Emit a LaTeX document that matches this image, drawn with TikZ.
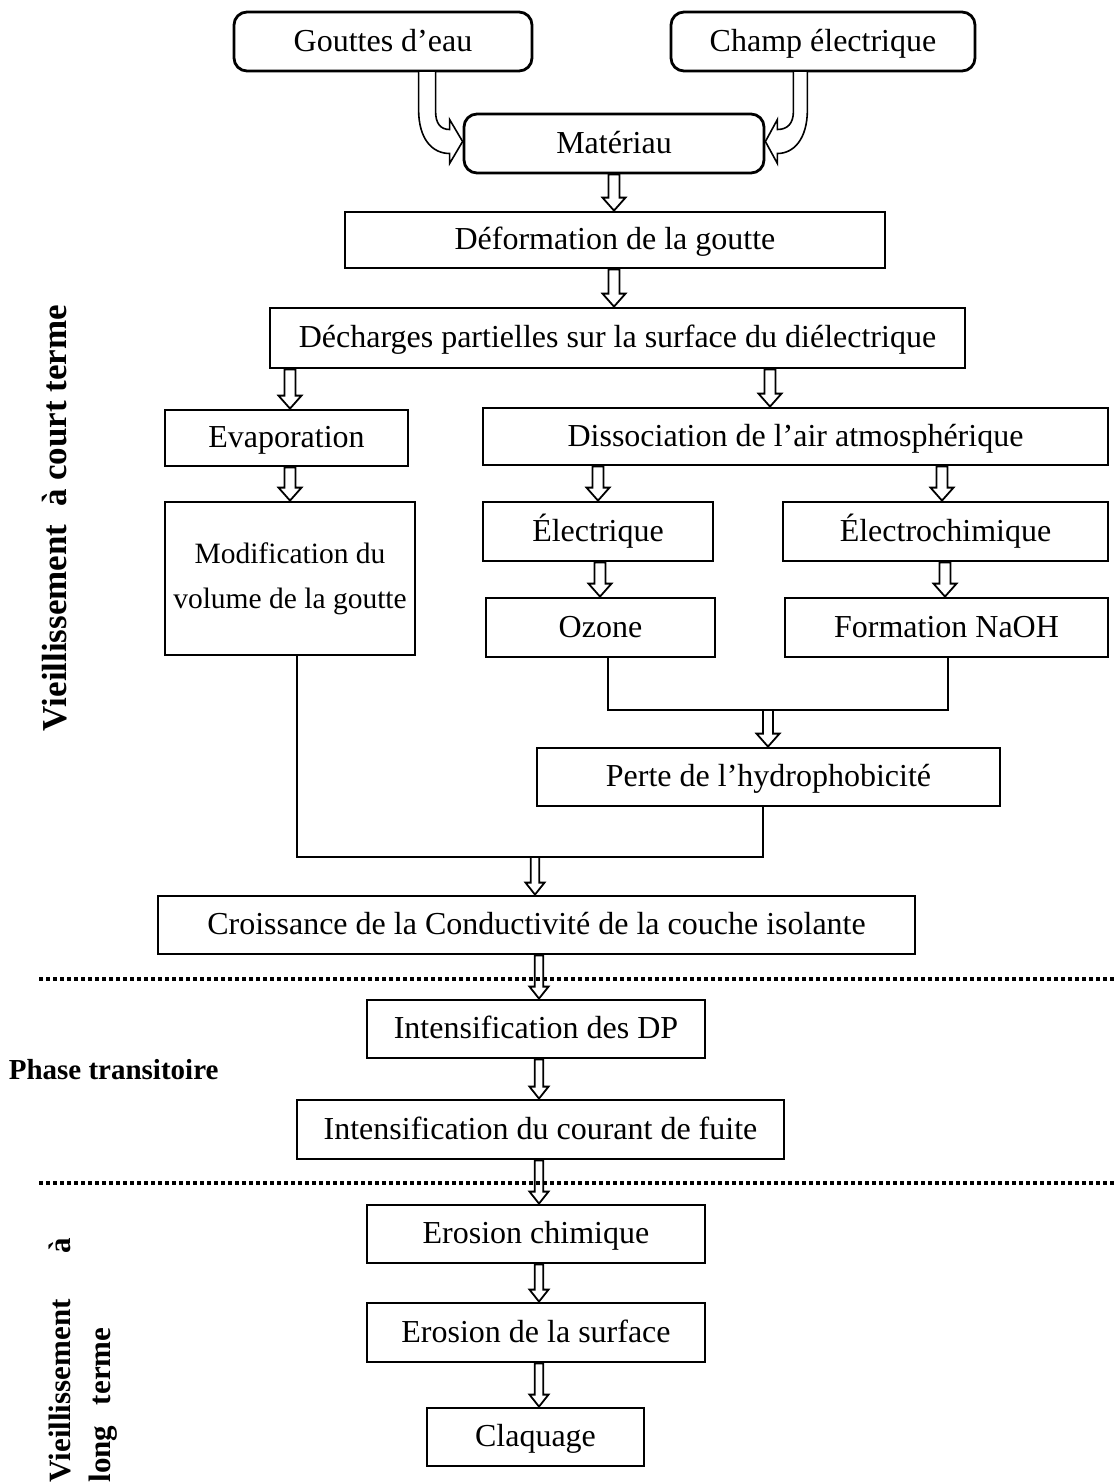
\documentclass[tikz,border=0pt]{standalone}
\usepackage{fontspec}
\setmainfont{Liberation Serif}
\usetikzlibrary{calc}
\tikzset{
  basebox/.style={draw, line width=2.8pt, inner sep=0pt, font=\fontsize{32}{38}\selectfont, align=center},
  box/.style={basebox, text height=25pt, text depth=6pt},
  rbox/.style={box, rounded corners=13pt},
  lab/.style={font=\bfseries\fontsize{29}{40}\selectfont},
  harrowst/.style={draw, fill=white, line width=1.8pt, line join=miter},
  link/.style={draw, line width=2.8pt},
  dots/.style={line width=3.8pt, dash pattern=on 3.6pt off 3.4pt}
}
\def\hs{5.5pt}\def\hw{11.5pt}\def\hl{13pt}
% hollow arrow: #1 from anchor, #2 to anchor, #3 coordinate giving x
\newcommand\harr[3]{%
  \filldraw[harrowst] let \p1=(#1), \p2=(#2), \p3=(#3) in
    (\x3-\hs,\y1) -- (\x3-\hs,\y2+\hl) -- (\x3-\hw,\y2+\hl) -- (\x3,\y2)
    -- (\x3+\hw,\y2+\hl) -- (\x3+\hs,\y2+\hl) -- (\x3+\hs,\y1) -- cycle;}
\begin{document}
\begin{tikzpicture}[x=1pt,y=-1pt]
\useasboundingbox (0,0) rectangle (1116,1484);
\fill[white] (0,0) rectangle (1116,1484);
% nodes
\node[rbox, minimum width=298pt, minimum height=59pt] (gouttes) at (383,41.5) {Gouttes d’eau};
\node[rbox, minimum width=304pt, minimum height=59pt] (champ) at (823,41.5) {Champ électrique};
\node[rbox, minimum width=300pt, minimum height=59pt] (mat) at (614,143.5) {Matériau};
\node[box, minimum width=540pt, minimum height=56pt] (def) at (615,240) {Déformation de la goutte};
\node[box, minimum width=695pt, minimum height=60pt] (dech) at (617.5,338) {Décharges partielles sur la surface du diélectrique};
\node[box, minimum width=243pt, minimum height=56pt] (evap) at (286.5,438) {Evaporation};
\node[box, minimum width=625pt, minimum height=57pt] (diss) at (795.5,436.5) {Dissociation de l’air atmosphérique};
\node[basebox, minimum width=250pt, minimum height=153pt, font=\fontsize{29.5}{38}\selectfont] (modif) at (290,578.5) {Modification du\\[7pt]volume de la goutte};
\node[box, minimum width=230pt, minimum height=59pt] (elec) at (598,531.5) {Électrique};
\node[box, minimum width=325pt, minimum height=59pt] (elch) at (945.5,531.5) {Électrochimique};
\node[box, minimum width=229pt, minimum height=59pt] (ozone) at (600.5,627.5) {Ozone};
\node[box, minimum width=323pt, minimum height=59pt] (naoh) at (946.5,627.5) {Formation NaOH};
\node[box, minimum width=463pt, minimum height=58pt] (perte) at (768.5,777) {Perte de l’hydrophobicité};
\node[box, minimum width=757pt, minimum height=58pt] (crois) at (536.5,925) {Croissance de la Conductivité de la couche isolante};
\node[box, minimum width=338pt, minimum height=58pt] (idp) at (536,1029) {Intensification des DP};
\node[box, minimum width=487pt, minimum height=59pt] (icf) at (540.5,1129.5) {Intensification du courant de fuite};
\node[box, minimum width=338pt, minimum height=58pt] (ech) at (536,1234) {Erosion chimique};
\node[box, minimum width=338pt, minimum height=59pt] (esurf) at (536,1332.5) {Erosion de la surface};
\node[box, minimum width=217pt, minimum height=58pt] (claq) at (535.5,1437) {Claquage};
% side labels
\node[lab, rotate=90, font=\bfseries\fontsize{35}{40}\selectfont] (lcourt) at (55,518) {Vieillissement\ \ à court terme};
\node[lab, anchor=east] (lphase) at (222,1070) {Phase transitoire};
\node[lab, rotate=90, text width=245pt, align=left, inner sep=0pt, font=\bfseries\fontsize{31}{40}\selectfont] (llong) at (83,1360) {Vieillissement\hfill à\\long\ \ terme};
% curved arrows into Matériau
\begin{scope}[shift={(mat.west)}]
\filldraw[harrowst, line width=1.6pt] (-44,-72.5) -- (-44,-34) .. controls (-44,-4) and (-30,10) .. (-13,10)
  -- (-13,20) -- (0,-2) -- (-13,-24) -- (-13,-14) .. controls (-22,-14) and (-27,-20) .. (-27,-32) -- (-27,-72.5) -- cycle;
\end{scope}
\begin{scope}[shift={(mat.east)}]
\filldraw[harrowst, line width=1.6pt] (42,-72.5) -- (42,-34) .. controls (42,-4) and (28,10) .. (12,10)
  -- (12,20) -- (0,-2) -- (12,-24) -- (12,-14) .. controls (22,-14) and (28,-20) .. (28,-32) -- (28,-72.5) -- cycle;
\end{scope}
% arrow x positions
\coordinate (xa) at (614,0);
\coordinate (xb) at (290,0);
\coordinate (xc) at (770,0);
\coordinate (xd) at (598,0);
\coordinate (xe) at (942,0);
\coordinate (xf) at (600,0);
\coordinate (xg) at (945,0);
\coordinate (xm) at (539,0);
% merge junctions
\coordinate (m1) at (768,710);
\coordinate (m2) at (535,857);
\draw[link] ([xshift=7.5pt]ozone.south) |- (m1) -| ([xshift=1.5pt]naoh.south);
\draw[link] ([xshift=7pt]modif.south) |- (m2) -| ([xshift=-5.5pt]perte.south);
% hollow arrows
\harr{mat.south}{def.north}{xa}
\harr{def.south}{dech.north}{xa}
\harr{dech.south}{evap.north}{xb}
\harr{dech.south}{diss.north}{xc}
\harr{evap.south}{modif.north}{xb}
\harr{diss.south}{elec.north}{xd}
\harr{diss.south}{elch.north}{xe}
\harr{elec.south}{ozone.north}{xf}
\harr{elch.south}{naoh.north}{xg}
\def\hs{5pt}\def\hw{11.5pt}
\harr{m1}{perte.north}{m1}
\def\hs{4.2pt}\def\hw{9.5pt}\def\hl{12pt}
\harr{m2}{crois.north}{m2}
\harr{crois.south}{idp.north}{xm}
\harr{idp.south}{icf.north}{xm}
\harr{icf.south}{ech.north}{xm}
\harr{ech.south}{esurf.north}{xm}
\harr{esurf.south}{claq.north}{xm}
% dotted separators
\coordinate (s1a) at (39,979); \coordinate (s1b) at (1116,979);
\coordinate (s2a) at (39,1183); \coordinate (s2b) at (1116,1183);
\draw[dots] (s1a) -- (s1b);
\draw[dots] (s2a) -- (s2b);
\end{tikzpicture}
\end{document}
